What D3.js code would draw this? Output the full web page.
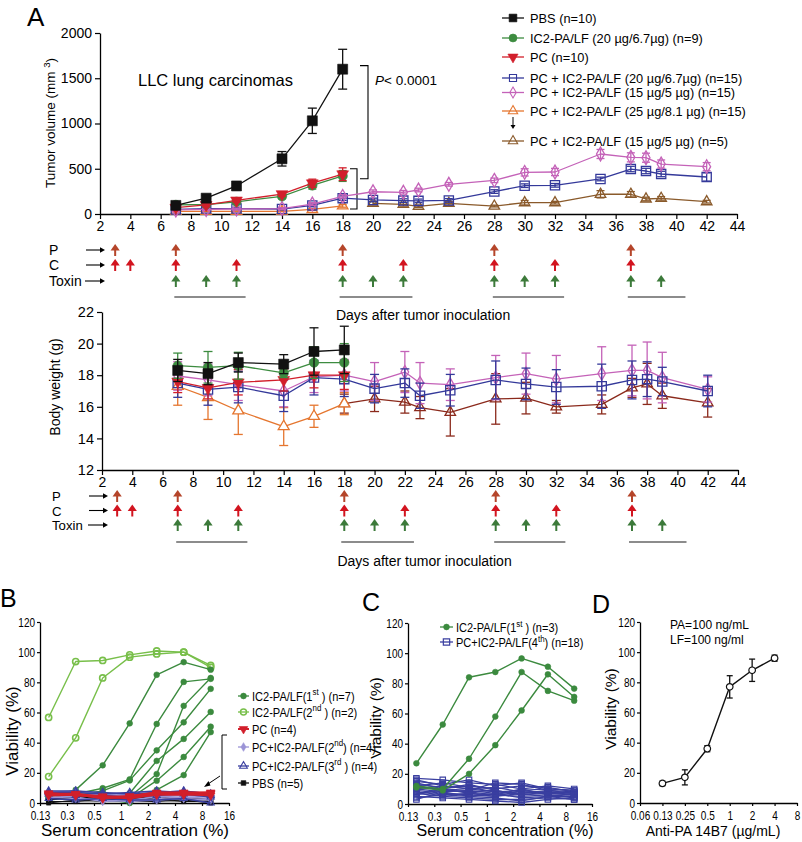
<!DOCTYPE html>
<html><head><meta charset="utf-8">
<script src="https://cdn.jsdelivr.net/npm/d3@7"></script>
<style>body{margin:0;background:#fff}svg{display:block}</style>
</head><body><svg id="c" width="802" height="842"></svg>
<script>
// ---------------- DATA ----------------
// Panel A – tumor volume
const daysEarly = [7,9,11,14,16,18];
const daysAll = [7,9,11,14,16,18,20,22,23,25,28,30,32,35,37,38,39,42];
const daysLate = [20,22,23,25,28,30,32,35,37,38,39,42];
const tvPBS = [95,175,310,610,1030,1600];
const tvPBSerr = [30,30,35,80,140,220];
const tvIC2 = [100,105,135,195,315,420];
const tvIC2err = [20,20,25,25,40,60];
const tvPC = [70,100,150,220,340,440];
const tvPCerr = [15,20,20,25,45,70];
const tvPCIC20 = [50,60,60,55,95,175,155,148,145,150,248,313,317,387,497,475,442,409];
const tvPCIC20err = [10,10,10,10,15,25,20,20,20,20,20,20,20,20,30,30,30,45];
const tvPCIC15 = [45,50,55,60,110,195,246,240,265,328,372,460,464,663,626,622,552,523];
const tvPCIC15err = [10,10,10,10,15,20,20,20,20,20,25,40,40,50,50,50,45,45];
const tvPCIC25 = [30,30,30,30,50,90];
const tvPCIC25err = [5,5,5,5,10,15];
const tvPCIC15n5 = [118,107,85,118,88,125,125,218,218,166,173,136];
const tvPCIC15n5err = [20,20,15,20,10,25,15,40,30,20,20,15];
const tvYTicks = [0,500,1000,1500,2000];
const dayTicks = d3.range(2,45,2);

// Panel A – body weight
const daysBW15n5 = [18,20,22,23,25,28,30,32,35,37,38,39,42];
const bwPBS = [18.3,18.1,18.8,18.7,19.5,19.6];
const bwPBSerr = [0.7,0.7,0.6,0.6,1.5,1.5];
const bwIC2 = [18.6,18.5,18.6,18.15,18.8,18.8];
const bwIC2err = [0.8,1.0,0.85,0.3,1.0,1.2];
const bwPC = [17.6,17.2,17.55,17.7,18.0,18.0];
const bwPCerr = [0.7,0.7,0.8,0.7,0.8,0.9];
const bwPCIC15 = [17.95,17.7,17.4,17.0,17.9,18.0,17.6,18.2,17.5,17.4,17.85,18.1,17.75,18.1,18.3,18.3,17.85,17.1];
const bwPCIC15err = [0.9,1.0,1.0,1.0,1.0,1.0,1.2,1.3,1.3,1.0,1.4,1.3,1.5,1.7,1.6,1.8,1.6,0.8];
const bwPCIC20 = [17.5,17.1,17.25,16.7,17.85,17.75,17.15,17.5,16.7,17.05,17.7,17.45,17.25,17.3,17.7,17.75,17.6,17.0];
const bwPCIC20err = [0.9,1.0,1.0,1.0,1.1,1.1,0.9,0.9,0.8,1.0,1.2,1.0,1.1,1.4,1.2,1.1,0.9,1.0];
const bwPCIC25 = [17.3,16.6,15.75,14.75,15.4,16.2];
const bwPCIC25err = [1.2,1.4,1.5,1.2,0.7,0.7];
const bwPCIC15n5 = [16.2,16.5,16.3,15.95,15.65,16.5,16.55,16.0,16.15,17.2,17.45,16.7,16.25];
const bwPCIC15n5err = [0.6,0.8,0.7,0.7,1.5,1.6,1.0,0.4,0.6,0.6,1.3,0.8,0.9];
const bwYTicks = [12,14,16,18,20,22];

// Treatment schedule
const schedP = [3,7,18,28,37];
const schedC = [3,4,7,11,18,22,28,32,37];
const schedToxin = [7,9,11,18,20,22,28,30,32,37,39];
const cycleStart = [6.9,17.8,27.9,36.8];
const cycleEnd = [11.6,22.6,32.6,40.6];

// Panel B – viability vs serum concentration
const serumConc = [0.156,0.3125,0.625,1.25,2.5,5,10];
const bIC2first = [
  [4,8.7,25,52.8,85,93.4,88.4],
  [3,6,9.8,15.7,52.4,80.3,82.3],
  [5,5,8,15,34.9,53.5,75.7],
  [2,4,5,6.5,27.9,42.5,60.4],
  [6,5,4,4,19.2,64.4,82.9],
  [3,3,2,3,14.8,30.5,50.6],
  [4,2,3,0,8.7,18.5,47]
];
const bIC2second = [
  [56.7,93.8,94.5,98.2,100.8,100,91.2],
  [17.5,43.2,82.9,96.7,98.8,100,89.9]
];
const bPC = [
  [6,6,4,4.4,7,6.5,7],
  [5,5.5,3.5,3.5,5.5,5.5,6],
  [6.5,5,4.5,3,6,6,5],
  [5.5,6,3,4.5,6.5,7,6.5]
];
const bPCIC2nd = [
  [7,8,6,5,7,8,6],
  [5,4,1,2,4,5,4],
  [6,6,5,6,3,4,3],
  [4,3,2,1,2,3,2]
];
const bPCIC3rd = [
  [8,8,7,6,7,8,6],
  [6,5,5,4,5,6,4],
  [3,2,3,2,2,3,0],
  [7,7,6,7,8,7,5]
];
const bPBS = [
  [2,5,3,3,3,3,2],
  [0,2,1,2,2,1,1],
  [3,3,2,3,4,3,3],
  [1,1,2,1,1,2,0],
  [2,4,3,4,3,2,2]
];
const serumTicks = [0.125,0.25,0.5,1,2,4,8,16];
const serumTickLabels = ["0.13","0.3","0.5","1","2","4","8","16"];
const viaTicks = [0,20,40,60,80,100,120];

// Panel C
const cIC2first = [
  [27,52.7,84,87.5,96.5,91,76.5],
  [12,10,30,58,87.5,75,68.5],
  [11,9,20,39,62,86,71]
];
const cPCIC4th = [
  [17,16,14,13,10,12,10],[16,12,10,8,7,9,8],[15,13,16,12,14,10,9],
  [14,10,9,7,8,8,7],[13,11,12,10,12,11,8],[12,9,8,9,6,7,6],
  [12,14,11,8,9,10,9],[11,10,7,6,5,6,5],[10,8,9,14,13,9,7],
  [10,12,10,11,8,7,8],[9,7,6,5,7,8,6],[8,6,5,7,4,5,5],
  [7,9,8,6,10,6,4],[7,5,4,3,3,4,3],[6,10,13,9,6,8,7],
  [5,4,3,2,1,3,4],[4,6,7,5,9,7,6],[3,8,5,4,2,5,3]
];

// Panel D
const abConc = [0.125,0.25,0.5,1,2,4];
const abVia = [13,17,36,77,88,96];
const abErr = [1.5,5,2,7.4,7.4,2];
const abTicks = [0.0625,0.125,0.25,0.5,1,2,4,8];
const abTickLabels = ["0.06","0.13","0.25","0.5","1","2","4","8"];

// ---------------- DRAWING ----------------
const FONT = '"Liberation Sans", Arial, sans-serif';
const NARROW_F = 0.8;
const svg = d3.select('#c');

const COL = {
  black:'#111111', green:'#3d8c40', red:'#d21f2b', blue:'#34399a', pink:'#c462b8',
  orange:'#e5762f', brown:'#8a5a2b', brownBW:'#8b2a1c', pArrow:'#b5452a', cArrow:'#d2141f',
  tArrow:'#3c7a3a', dkgreen:'#3b8a3e', ltgreen:'#78bf4a', lilac:'#9b94d6', bblue:'#3a3fa0'
};

function styleAxis(g, fs, narrow){
  g.select('.domain').attr('stroke','#000').attr('stroke-width',1.3);
  g.selectAll('.tick line').attr('stroke','#000').attr('stroke-width',1.2);
  const t = g.selectAll('.tick text').attr('font-size',fs).attr('font-family',FONT).attr('fill','#000');
  if(narrow){
    t.each(function(){
      const s = d3.select(this);
      const x = +s.attr('x') || 0;
      s.attr('x', x/NARROW_F).attr('transform',`scale(${NARROW_F},1)`);
    });
  }
}

function text(g, x, y, str, fs, opts={}){
  const t = g.append('text').attr('x',x).attr('y',y).attr('font-size',fs)
    .attr('font-family',FONT).attr('fill',opts.fill||'#000').text(str);
  if(opts.anchor) t.attr('text-anchor',opts.anchor);
  if(opts.rotate) t.attr('transform',`rotate(-90,${x},${y})`);
  if(opts.italic) t.attr('font-style','italic');
  return t;
}
// parts: [string, isSup]
function textParts(g, x, y, parts, fs, opts={}){
  const t = g.append('text').attr('font-size',fs).attr('font-family',FONT).attr('fill','#000');
  if(opts.sx){ t.attr('x',0).attr('y',0).attr('transform',`translate(${x},${y}) scale(${opts.sx},1)`); }
  else { t.attr('x',x).attr('y',y); }
  if(opts.anchor) t.attr('text-anchor',opts.anchor);
  if(opts.rotate) t.attr('transform',`rotate(-90,${x},${y})`);
  let shifted = false;
  parts.forEach(([s,sup])=>{
    const ts = t.append('tspan').text(s);
    if(sup && !shifted){ ts.attr('dy',-fs*0.4).attr('font-size',fs*0.72); shifted=true; }
    else if(!sup && shifted){ ts.attr('dy',fs*0.4); shifted=false; }
  });
  return t;
}

function marker(g, x, y, o){
  return g.append('path').attr('d', d3.symbol().type(o.shape).size(o.size)())
    .attr('transform',`translate(${x},${y})${o.rot?' rotate(180)':''}`)
    .attr('fill', o.open ? (o.fillOpen||'none') : o.color)
    .attr('stroke', o.color).attr('stroke-width', o.open ? (o.sw||1.3) : 0.6);
}

function drawSeries(g, xs, ys, xv, yv, ev, o){
  if(ev){
    yv.forEach((v,i)=>{
      const e = ev[i]; if(!e) return;
      const x = xs(xv[i]);
      const y1 = ys(v+e), y2 = ys(v-e);
      g.append('line').attr('x1',x).attr('x2',x).attr('y1',y1).attr('y2',y2)
        .attr('stroke',o.color).attr('stroke-width',1.3);
      [y1,y2].forEach(yy=>g.append('line').attr('x1',x-o.cap).attr('x2',x+o.cap).attr('y1',yy).attr('y2',yy)
        .attr('stroke',o.color).attr('stroke-width',1.3));
    });
  }
  const line = d3.line().x((d,i)=>xs(xv[i])).y(d=>ys(d));
  g.append('path').attr('d', line(yv)).attr('fill','none').attr('stroke',o.color)
    .attr('stroke-width',o.lw||1.3).attr('stroke-linejoin','round');
  if(o.shape) yv.forEach((v,i)=>marker(g, xs(xv[i]), ys(v), o));
}

const triDown = d3.symbolTriangle;

// ====== PANEL A top: tumor volume ======
const gA = svg.append('g');
text(gA, 27, 26, 'A', 26);
const xA = d3.scaleLinear().domain([2,44]).range([100,737]);
const yA = d3.scaleLinear().domain([0,2000]).range([214,33]);
const axAx = gA.append('g').attr('transform','translate(0,214)')
  .call(d3.axisBottom(xA).tickValues(dayTicks).tickSize(5).tickSizeOuter(0).tickPadding(2));
styleAxis(axAx, 14);
const axAy = gA.append('g').attr('transform','translate(100,0)')
  .call(d3.axisLeft(yA).tickValues(tvYTicks).tickFormat(d3.format('d')).tickSize(5).tickSizeOuter(0).tickPadding(3));
styleAxis(axAy, 14);
textParts(gA, 55, 123, [['Tumor volume (mm ',false],['3',true],[')',false]], 13.5, {anchor:'middle', rotate:true});
text(gA, 138, 86, 'LLC lung carcinomas', 16.5);
text(gA, 375, 85, 'P', 13.5, {italic:true});
text(gA, 384, 85, '< 0.0001', 13.5);

function bracketLeft(g, x, yTop, yBot, w){
  g.append('path').attr('d',`M${x-w},${yTop} L${x},${yTop} L${x},${yBot} L${x-w},${yBot}`)
    .attr('fill','none').attr('stroke','#000').attr('stroke-width',1.1);
}
bracketLeft(gA, 368, yA(1640), yA(390), 8);
bracketLeft(gA, 357, yA(500), yA(55), 7);

const gAs = gA.append('g');
drawSeries(gAs, xA, yA, daysEarly, tvPCIC25, tvPCIC25err, {color:COL.orange, shape:d3.symbolTriangle, size:48, open:true, cap:4});
drawSeries(gAs, xA, yA, daysLate, tvPCIC15n5, tvPCIC15n5err, {color:COL.brown, shape:d3.symbolTriangle, size:48, open:true, cap:4});
drawSeries(gAs, xA, yA, daysAll, tvPCIC20, tvPCIC20err, {color:COL.blue, shape:d3.symbolSquare, size:85, open:true, cap:4});
drawSeries(gAs, xA, yA, daysAll, tvPCIC15, tvPCIC15err, {color:COL.pink, shape:d3.symbolDiamond, size:55, open:true, cap:4});
drawSeries(gAs, xA, yA, daysEarly, tvIC2, tvIC2err, {color:COL.green, shape:d3.symbolCircle, size:70, cap:4});
drawSeries(gAs, xA, yA, daysEarly, tvPC, tvPCerr, {color:COL.red, shape:triDown, size:60, rot:true, cap:4});
drawSeries(gAs, xA, yA, daysEarly, tvPBS, tvPBSerr, {color:COL.black, shape:d3.symbolSquare, size:100, cap:4.5});

const legendItems = [
  {y:18, label:'PBS (n=10)', o:{color:COL.black, shape:d3.symbolSquare, size:60}},
  {y:38, label:'IC2-PA/LF (20 µg/6.7µg) (n=9)', o:{color:COL.green, shape:d3.symbolCircle, size:50}},
  {y:57, label:'PC (n=10)', o:{color:COL.red, shape:triDown, size:45, rot:true}},
  {y:78, label:'PC + IC2-PA/LF (20 µg/6.7µg) (n=15)', o:{color:COL.blue, shape:d3.symbolSquare, size:50, open:true, sw:1.1}},
  {y:92.5, label:'PC + IC2-PA/LF (15 µg/5 µg) (n=15)', o:{color:COL.pink, shape:d3.symbolDiamond, size:35, open:true, sw:1.1}},
  {y:111, label:'PC + IC2-PA/LF (25 µg/8.1 µg) (n=15)', o:{color:COL.orange, shape:d3.symbolTriangle, size:38, open:true, sw:1.1}},
  {y:141, label:'PC + IC2-PA/LF (15 µg/5 µg) (n=5)', o:{color:COL.brown, shape:d3.symbolTriangle, size:38, open:true, sw:1.1}}
];
const gL = gA.append('g');
legendItems.forEach(it=>{
  gL.append('line').attr('x1',502).attr('x2',524).attr('y1',it.y).attr('y2',it.y).attr('stroke',it.o.color).attr('stroke-width',1.3);
  marker(gL, 513, it.y, it.o);
  text(gL, 530, it.y+4.6, it.label, 12.8);
});
gL.append('line').attr('x1',513).attr('x2',513).attr('y1',117).attr('y2',126).attr('stroke','#000').attr('stroke-width',1);
gL.append('path').attr('d','M510.5,125 L513,129 L515.5,125 Z').attr('fill','#000');

// schedule rows
function upArrow(g, x, y, color){
  g.append('line').attr('x1',x).attr('x2',x).attr('y1',y+6).attr('y2',y-1).attr('stroke',color).attr('stroke-width',2);
  g.append('path').attr('d',`M${x-4.6},${y+0.5} L${x},${y-6} L${x+4.6},${y+0.5} Z`).attr('fill',color);
}
function rightArrow(g, x1, x2, y){
  g.append('line').attr('x1',x1).attr('x2',x2-3).attr('y1',y).attr('y2',y).attr('stroke','#000').attr('stroke-width',1.1);
  g.append('path').attr('d',`M${x2-5},${y-2.8} L${x2},${y} L${x2-5},${y+2.8} Z`).attr('fill','#000');
}
function schedule(g, xs, yP, yC, yT, yLine, yDays, labelX, fs){
  text(g, labelX, yP+5, 'P', fs);
  text(g, labelX, yC+5, 'C', fs);
  text(g, labelX, yT+5, 'Toxin', fs);
  rightArrow(g, labelX+37, labelX+56, yP);
  rightArrow(g, labelX+37, labelX+56, yC);
  rightArrow(g, labelX+36, labelX+56, yT);
  schedP.forEach(d=>upArrow(g, xs(d), yP, COL.pArrow));
  schedC.forEach(d=>upArrow(g, xs(d), yC, COL.cArrow));
  schedToxin.forEach(d=>upArrow(g, xs(d), yT, COL.tArrow));
  cycleStart.forEach((s,i)=>g.append('line').attr('x1',xs(s)).attr('x2',xs(cycleEnd[i]))
    .attr('y1',yLine).attr('y2',yLine).attr('stroke','#666').attr('stroke-width',1.6));
  text(g, xs(23.3), yDays, 'Days after tumor inoculation', 14, {anchor:'middle'});
}
schedule(gA, xA, 250, 265, 281, 297, 320, 49, 14);

// ====== PANEL A bottom: body weight ======
const gW = svg.append('g');
const xW = d3.scaleLinear().domain([2,44]).range([102,738]);
const yW = d3.scaleLinear().domain([12,22]).range([470,312]);
const axWx = gW.append('g').attr('transform','translate(0,470)')
  .call(d3.axisBottom(xW).tickValues(dayTicks).tickSize(5).tickSizeOuter(0).tickPadding(2));
styleAxis(axWx, 14);
const axWy = gW.append('g').attr('transform','translate(102,0)')
  .call(d3.axisLeft(yW).tickValues(bwYTicks).tickSize(5).tickSizeOuter(0).tickPadding(3));
styleAxis(axWy, 14.5);
text(gW, 60, 387, 'Body weight (g)', 14, {anchor:'middle', rotate:true});
const gWs = gW.append('g');
drawSeries(gWs, xW, yW, daysBW15n5, bwPCIC15n5, bwPCIC15n5err, {color:COL.brownBW, shape:d3.symbolTriangle, size:48, open:true, cap:4.5});
drawSeries(gWs, xW, yW, daysEarly, bwPCIC25, bwPCIC25err, {color:COL.orange, shape:d3.symbolTriangle, size:52, open:true, cap:4.5, fillOpen:'#fff'});
drawSeries(gWs, xW, yW, daysAll, bwPCIC15, bwPCIC15err, {color:COL.pink, shape:d3.symbolDiamond, size:50, open:true, cap:4.5});
drawSeries(gWs, xW, yW, daysAll, bwPCIC20, bwPCIC20err, {color:COL.blue, shape:d3.symbolSquare, size:85, open:true, cap:4.5});
drawSeries(gWs, xW, yW, daysEarly, bwPC, bwPCerr, {color:COL.red, shape:triDown, size:60, rot:true, cap:4.5});
drawSeries(gWs, xW, yW, daysEarly, bwIC2, bwIC2err, {color:COL.green, shape:d3.symbolCircle, size:70, cap:4.5});
drawSeries(gWs, xW, yW, daysEarly, bwPBS, bwPBSerr, {color:COL.black, shape:d3.symbolSquare, size:100, cap:4.5});
schedule(gW, xW, 496, 510.5, 525, 542, 566, 52, 13.2);

// ====== PANEL B ======
const XPAD = 5.5;
const gB = svg.append('g');
text(gB, 0, 607, 'B', 25);
const xB = d3.scaleLog().base(2).domain([0.125,16]).range([40,229]);
const yB = d3.scaleLinear().domain([0,120]).range([803,622]);
const axBx = gB.append('g').attr('transform','translate(0,803)')
  .call(d3.axisBottom(xB).tickValues(serumTicks).tickFormat((d,i)=>serumTickLabels[i]).tickSize(3).tickSizeOuter(0).tickPadding(XPAD));
styleAxis(axBx, 12.5, true);
const axBy = gB.append('g').attr('transform','translate(40,0)')
  .call(d3.axisLeft(yB).tickValues(viaTicks).tickSize(3).tickSizeOuter(0).tickPadding(2));
styleAxis(axBy, 12.5, true);
text(gB, 18, 731, 'Viability (%)', 17, {anchor:'middle', rotate:true});
text(gB, 135, 836, 'Serum concentration (%)', 17, {anchor:'middle'});
const gBs = gB.append('g');
bIC2second.forEach(v=>drawSeries(gBs, xB, yB, serumConc, v, null, {color:COL.ltgreen, shape:d3.symbolCircle, size:30, open:true, sw:1.6, lw:1.4}));
bIC2first.forEach(v=>drawSeries(gBs, xB, yB, serumConc, v, null, {color:COL.dkgreen, shape:d3.symbolCircle, size:26, lw:1.4}));
bPBS.forEach(v=>drawSeries(gBs, xB, yB, serumConc, v, null, {color:COL.black, shape:d3.symbolSquare, size:18, lw:1.2}));
bPCIC2nd.forEach(v=>drawSeries(gBs, xB, yB, serumConc, v, null, {color:COL.lilac, shape:d3.symbolDiamond, size:22, lw:1.4}));
bPCIC3rd.forEach(v=>drawSeries(gBs, xB, yB, serumConc, v, null, {color:COL.bblue, shape:d3.symbolTriangle, size:22, open:true, sw:1.1, lw:1.4}));
bPC.forEach(v=>drawSeries(gBs, xB, yB, serumConc, v, null, {color:COL.red, shape:triDown, size:32, rot:true, lw:2.2}));
const LEG_FS = 13, LEG_SX = 0.85;
const legB = [
  {y:696, parts:[['IC2-PA/LF(1',false],['st',true],[' ) (n=7)',false]], o:{color:COL.dkgreen, shape:d3.symbolCircle, size:26}},
  {y:712, parts:[['IC2-PA/LF(2',false],['nd',true],[' ) (n=2)',false]], o:{color:COL.ltgreen, shape:d3.symbolCircle, size:28, open:true, sw:1.5}},
  {y:729, parts:[['PC (n=4)',false]], o:{color:COL.red, shape:triDown, size:32, rot:true}, lw:2},
  {y:747, parts:[['PC+IC2-PA/LF(2',false],['nd',true],[') (n=4)',false]], o:{color:COL.lilac, shape:d3.symbolDiamond, size:22}},
  {y:766, parts:[['PC+IC2-PA/LF(3',false],['rd',true],[' ) (n=4)',false]], o:{color:COL.bblue, shape:d3.symbolTriangle, size:26, open:true, sw:1.1}},
  {y:783, parts:[['PBS (n=5)',false]], o:{color:COL.black, shape:d3.symbolSquare, size:22}}
];
legB.forEach(it=>{
  gB.append('line').attr('x1',238).attr('x2',249).attr('y1',it.y).attr('y2',it.y).attr('stroke',it.o.color).attr('stroke-width',it.lw||1.3);
  marker(gB, 243.5, it.y, it.o);
  textParts(gB, 252, it.y+4.5, it.parts, LEG_FS, {sx:LEG_SX});
});
gB.append('path').attr('d','M227,735 L222,735 L222,789 L227,789').attr('fill','none').attr('stroke','#000').attr('stroke-width',1);
gB.append('line').attr('x1',220).attr('y1',776).attr('x2',208).attr('y2',784).attr('stroke','#000').attr('stroke-width',1);
gB.append('path').attr('d','M204,787 L208.5,781 L210.5,785.5 Z').attr('fill','#000');

// ====== PANEL C ======
const gC = svg.append('g');
text(gC, 362, 611, 'C', 25);
const xC = d3.scaleLog().base(2).domain([0.125,16]).range([408,592]);
const yC = d3.scaleLinear().domain([0,120]).range([804,623]);
const axCx = gC.append('g').attr('transform','translate(0,804)')
  .call(d3.axisBottom(xC).tickValues(serumTicks).tickFormat((d,i)=>serumTickLabels[i]).tickSize(3).tickSizeOuter(0).tickPadding(XPAD));
styleAxis(axCx, 12.5, true);
const axCy = gC.append('g').attr('transform','translate(408,0)')
  .call(d3.axisLeft(yC).tickValues(viaTicks).tickSize(3).tickSizeOuter(0).tickPadding(2));
styleAxis(axCy, 12.5, true);
text(gC, 381, 718, 'Viability (%)', 15.5, {anchor:'middle', rotate:true});
text(gC, 505, 836, 'Serum concentration (%)', 16, {anchor:'middle'});
const gCs = gC.append('g');
cPCIC4th.forEach(v=>drawSeries(gCs, xC, yC, serumConc, v, null, {color:COL.bblue, shape:d3.symbolSquare, size:30, open:true, sw:1.1, lw:1.3}));
cIC2first.forEach(v=>drawSeries(gCs, xC, yC, serumConc, v, null, {color:COL.dkgreen, shape:d3.symbolCircle, size:26, lw:1.4}));
const legC = [
  {y:627, parts:[['IC2-PA/LF(1',false],['st',true],[' ) (n=3)',false]], o:{color:COL.dkgreen, shape:d3.symbolCircle, size:26}},
  {y:642, parts:[['PC+IC2-PA/LF(4',false],['th',true],[') (n=18)',false]], o:{color:COL.bblue, shape:d3.symbolSquare, size:40, open:true, sw:1.2}}
];
legC.forEach(it=>{
  gC.append('line').attr('x1',440).attr('x2',453).attr('y1',it.y).attr('y2',it.y).attr('stroke',it.o.color).attr('stroke-width',1.3);
  marker(gC, 446.5, it.y, it.o);
  textParts(gC, 456, it.y+4.5, it.parts, 12.5, {sx:0.88});
});

// ====== PANEL D ======
const gD = svg.append('g');
text(gD, 592, 613, 'D', 25);
const xD = d3.scaleLog().base(2).domain([0.0625,8]).range([640,797]);
const yD = d3.scaleLinear().domain([0,120]).range([803,622]);
const axDx = gD.append('g').attr('transform','translate(0,803)')
  .call(d3.axisBottom(xD).tickValues(abTicks).tickFormat((d,i)=>abTickLabels[i]).tickSize(3).tickSizeOuter(0).tickPadding(XPAD));
styleAxis(axDx, 12.5, true);
const axDy = gD.append('g').attr('transform','translate(640,0)')
  .call(d3.axisLeft(yD).tickValues(viaTicks).tickSize(3).tickSizeOuter(0).tickPadding(2));
styleAxis(axDy, 12.5, true);
text(gD, 616, 709, 'Viability (%)', 15.5, {anchor:'middle', rotate:true});
text(gD, 713, 836, 'Anti-PA 14B7 (µg/mL)', 14, {anchor:'middle'});
text(gD, 670, 629, 'PA=100 ng/mL', 12);
text(gD, 670, 644, 'LF=100 ng/ml', 12);
drawSeries(gD.append('g'), xD, yD, abConc, abVia, abErr, {color:COL.black, shape:d3.symbolCircle, size:34, open:true, fillOpen:'#fff', sw:1.2, cap:3, lw:1.4});
</script></body></html>
